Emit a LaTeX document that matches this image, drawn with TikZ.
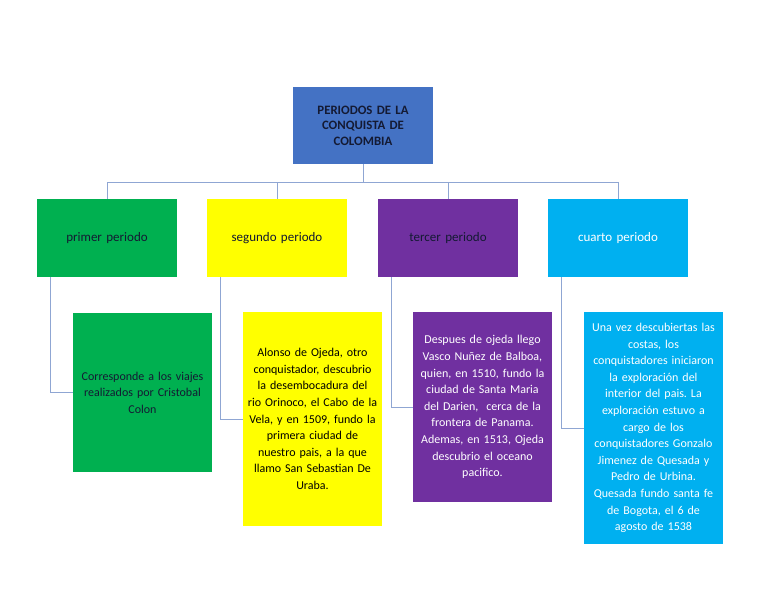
\documentclass[tikz,border=0pt]{standalone}
\usepackage{fontspec}
\setmainfont{Carlito}
\frenchspacing
\definecolor{azulT}{HTML}{4472C4}
\definecolor{verdeP}{HTML}{00B050}
\definecolor{amarP}{HTML}{FFFF00}
\definecolor{moraP}{HTML}{7030A0}
\definecolor{celeP}{HTML}{00B0F0}
\definecolor{linea}{HTML}{8FA6D3}
\definecolor{tinta}{HTML}{141A33}
\begin{document}
\begin{tikzpicture}[x=1pt,y=-1pt]
	\tikzset{titulo/.style={minimum width=140pt,minimum height=77pt,inner sep=3pt,align=center,text width=134pt,fill=azulT,text=tinta,font=\bfseries\fontsize{12.8}{15.5}\selectfont},
		periodo/.style={minimum width=140pt,minimum height=78pt,inner sep=3pt,align=center,text width=134pt,font=\fontsize{13}{15}\selectfont},
		detalle/.style={minimum width=139pt,inner sep=3pt,align=center,text width=133pt,font=\fontsize{12}{16.6}\selectfont},
		enlace/.style={draw=linea,line width=1pt}}
	\useasboundingbox (0,0) rectangle (768,594);
	
	% Titulo
	\path (363,125.5) node[titulo] (T) {PERIODOS DE LA\\CONQUISTA DE\\COLOMBIA}
	
	% Los cuatro periodos
	(107,238) node[periodo,fill=verdeP,text=tinta] (P1) {primer periodo}
	(277,238) node[periodo,fill=amarP,text=tinta] (P2) {segundo periodo}
	(448,238) node[periodo,fill=moraP,text=tinta] (P3) {tercer periodo}
	(618,238) node[periodo,fill=celeP,text=white] (P4) {cuarto periodo}
	
	% Descripciones
	(142.5,392.5) node[detalle,minimum height=159pt,fill=verdeP,text=tinta] (D1) {Corresponde a los viajes\\realizados por Cristobal\\Colon}
	(312.5,419) node[detalle,minimum height=214pt,fill=amarP,text=black] (D2) {Alonso de Ojeda, otro\\conquistador, descubrio\\la desembocadura del\\rio Orinoco, el Cabo de la\\Vela, y en 1509, fundo la\\primera ciudad de\\nuestro pais, a la que\\llamo San Sebastian De\\Uraba.}
	(482.5,407) node[detalle,minimum height=190pt,fill=moraP,text=white] (D3) {Despues de ojeda llego\\Vasco Nuñez de Balboa,\\quien, en 1510, fundo la\\ciudad de Santa Maria\\del Darien,\ \ cerca de la\\frontera de Panama.\\Ademas, en 1513, Ojeda\\descubrio el oceano\\pacifico.}
	(653.5,428) node[detalle,minimum height=232pt,fill=celeP,text=white] (D4) {Una vez descubiertas las\\costas, los\\conquistadores iniciaron\\la exploración del\\interior del pais. La\\exploración estuvo a\\cargo de los\\conquistadores Gonzalo\\Jimenez de Quesada y\\Pedro de Urbina.\\Quesada fundo santa fe\\de Bogota, el 6 de\\agosto de 1538};
	
	% Lineas del titulo a los periodos
	\coordinate (bus) at (363,182);
	\draw[enlace] (T.south) -- (bus);
	\draw[enlace] (bus) -| (P1.north);
	\draw[enlace] (bus) -| (P2.north);
	\draw[enlace] (bus) -| (P3.north);
	\draw[enlace] (bus) -| (P4.north);
	
	% Lineas de cada periodo a su descripcion
	\draw[enlace] ([xshift=14pt]P1.south west) |- (D1.west);
	\draw[enlace] ([xshift=14pt]P2.south west) |- (D2.west);
	\draw[enlace] ([xshift=14pt]P3.south west) |- (D3.west);
	\draw[enlace] ([xshift=14pt]P4.south west) |- (D4.west);
\end{tikzpicture}
\end{document}
